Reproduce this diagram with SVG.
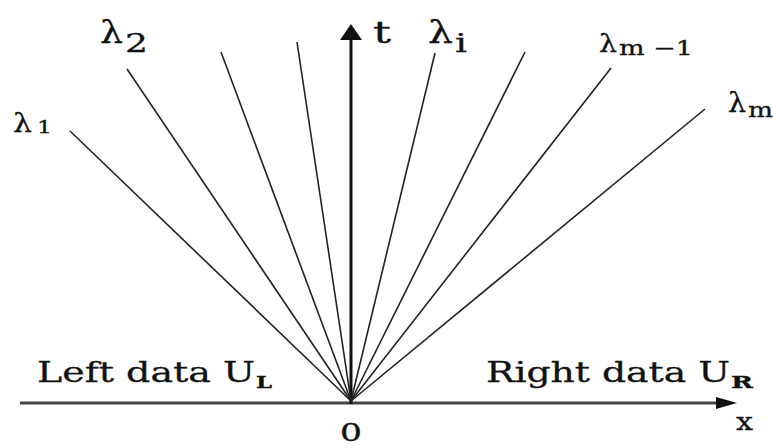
<svg xmlns="http://www.w3.org/2000/svg" width="773" height="448" viewBox="0 0 773 448">
<style>
.ray{stroke:#222;stroke-width:1.6;fill:none}
text{font-family:"DejaVu Serif","Liberation Serif",serif;fill:#111;stroke:#111;stroke-width:0.3}
</style>
<g id="connectors">
<line x1="20" y1="403" x2="720" y2="403" stroke="#444" stroke-width="3"/>
<path d="M716,397 L737,403 L716,409 Z" fill="#111"/>
<line x1="351" y1="404" x2="351" y2="38" stroke="#111" stroke-width="3"/>
<path d="M340,40 L351,24 L362,40 Z" fill="#111"/>
<line class="ray" x1="351" y1="401" x2="70" y2="131"/>
<line class="ray" x1="351" y1="401" x2="127" y2="69"/>
<line class="ray" x1="351" y1="401" x2="221" y2="52"/>
<line class="ray" x1="351" y1="401" x2="297" y2="42"/>
<line class="ray" x1="351" y1="401" x2="435" y2="53"/>
<line class="ray" x1="351" y1="401" x2="525" y2="52"/>
<line class="ray" x1="351" y1="401" x2="611" y2="68"/>
<line class="ray" x1="351" y1="401" x2="705" y2="109"/>
</g>
<g id="label-lambda1">
<text x="13" y="132" font-size="26" textLength="19" lengthAdjust="spacingAndGlyphs">λ</text>
<text x="37" y="133" font-size="16" textLength="15" lengthAdjust="spacingAndGlyphs">1</text>
</g>
<g id="label-lambda2">
<text x="100" y="43" font-size="32" textLength="23" lengthAdjust="spacingAndGlyphs">λ</text>
<text x="125" y="52" font-size="26" textLength="23" lengthAdjust="spacingAndGlyphs">2</text>
</g>
<g id="label-t"><text x="373" y="43" font-size="30" textLength="18" lengthAdjust="spacingAndGlyphs">t</text></g>
<g id="label-lambdai">
<text x="428" y="43" font-size="32" textLength="25" lengthAdjust="spacingAndGlyphs">λ</text>
<text x="455" y="52" font-size="26" textLength="12" lengthAdjust="spacingAndGlyphs">i</text>
</g>
<g id="label-lambdam1">
<text x="599" y="52" font-size="25" textLength="18" lengthAdjust="spacingAndGlyphs">λ</text>
<text x="619" y="55" font-size="20" textLength="74" lengthAdjust="spacingAndGlyphs">m −1</text>
</g>
<g id="label-lambdam">
<text x="728" y="112" font-size="27" textLength="18" lengthAdjust="spacingAndGlyphs">λ</text>
<text x="748" y="117" font-size="20" textLength="25" lengthAdjust="spacingAndGlyphs">m</text>
</g>
<g id="label-left">
<text x="37" y="382" font-size="28" textLength="218" lengthAdjust="spacingAndGlyphs">Left data U</text>
<text x="256" y="388" font-size="16" font-weight="bold" textLength="16" lengthAdjust="spacingAndGlyphs">L</text>
</g>
<g id="label-right">
<text x="486" y="382" font-size="28" textLength="244" lengthAdjust="spacingAndGlyphs">Right data U</text>
<text x="731" y="388" font-size="16" font-weight="bold" textLength="22" lengthAdjust="spacingAndGlyphs">R</text>
</g>
<g id="label-origin"><text x="340" y="441" font-size="24" textLength="22" lengthAdjust="spacingAndGlyphs">0</text></g>
<g id="label-x"><text x="736" y="430" font-size="24" textLength="17" lengthAdjust="spacingAndGlyphs">x</text></g>
</svg>
